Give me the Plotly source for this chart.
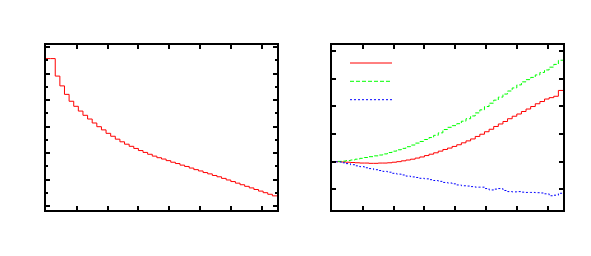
import plotly.graph_objects as go

# ---- data ----
n_bins = 50
bin_width = 0.15
bin_edges = [round(i * bin_width, 4) for i in range(n_bins + 1)]

left_values = [5.57, 5.57, 4.91, 4.54, 4.22, 3.96, 3.77, 3.59, 3.43, 3.29,
               3.14, 3.00, 2.88, 2.75, 2.64, 2.53, 2.43, 2.34, 2.26, 2.18,
               2.10, 2.03, 1.96, 1.89, 1.83, 1.78, 1.72, 1.66, 1.61, 1.55,
               1.50, 1.44, 1.38, 1.33, 1.27, 1.22, 1.16, 1.11, 1.05, 0.99,
               0.93, 0.87, 0.81, 0.75, 0.69, 0.63, 0.57, 0.51, 0.45, 0.39]

red_values = [0.00, 0.00, -0.01, -0.02, -0.03, -0.04, -0.05, -0.05, -0.06, -0.06,
              -0.05, -0.05, -0.04, -0.02, 0.00, 0.03, 0.06, 0.09, 0.13, 0.17,
              0.22, 0.27, 0.32, 0.38, 0.44, 0.49, 0.55, 0.61, 0.68, 0.75,
              0.82, 0.91, 0.99, 1.08, 1.17, 1.27, 1.36, 1.45, 1.55, 1.64,
              1.72, 1.81, 1.90, 1.99, 2.09, 2.17, 2.26, 2.31, 2.36, 2.57]

green_values = [0.00, 0.01, 0.02, 0.04, 0.06, 0.09, 0.12, 0.15, 0.18, 0.21,
                0.24, 0.28, 0.33, 0.38, 0.43, 0.48, 0.54, 0.60, 0.67, 0.73,
                0.80, 0.87, 0.95, 1.04, 1.16, 1.24, 1.30, 1.37, 1.46, 1.55,
                1.65, 1.76, 1.87, 1.99, 2.11, 2.22, 2.33, 2.44, 2.55, 2.66,
                2.77, 2.88, 2.96, 3.04, 3.13, 3.22, 3.31, 3.41, 3.51, 3.66]

blue_values = [0.00, -0.01, -0.04, -0.07, -0.11, -0.15, -0.18, -0.22, -0.25, -0.29,
               -0.32, -0.35, -0.38, -0.42, -0.45, -0.48, -0.52, -0.55, -0.57, -0.60,
               -0.62, -0.65, -0.68, -0.71, -0.75, -0.77, -0.80, -0.84, -0.87, -0.88,
               -0.90, -0.92, -0.92, -0.97, -1.02, -0.99, -0.97, -1.04, -1.08, -1.09,
               -1.08, -1.10, -1.11, -1.11, -1.12, -1.13, -1.16, -1.23, -1.21, -1.14]

left_x_range = [0, 7.5]
left_y_range = [-0.143, 6.083]
right_y_range = [-1.744, 4.21]

RED = "rgb(255,0,0)"
GREEN = "rgb(0,255,0)"
BLUE = "rgb(0,0,255)"


def steps(vals):
    return bin_edges, list(vals) + [vals[-1]]


fig = go.Figure()

x, y = steps(left_values)
fig.add_trace(go.Scatter(x=x, y=y, mode="lines", line=dict(color=RED, width=1, shape="hv"),
                         xaxis="x", yaxis="y", showlegend=False, name="left"))

for vals, col, dash, nm in [(red_values, RED, "solid", "red"),
                            (green_values, GREEN, "4px,2px", "green"),
                            (blue_values, BLUE, "2px,2px", "blue")]:
    x, y = steps(vals)
    fig.add_trace(go.Scatter(x=x, y=y, mode="lines",
                             line=dict(color=col, width=1, shape="hv", dash=dash),
                             xaxis="x2", yaxis="y2", showlegend=False, name=nm))

# page body has an 8px margin; figure sized to fit the window
OFF = 8
W, H = 575, 240


def px_x(p):
    return (p - OFF) / W


def px_y(p):
    return 1 - (p - OFF) / H


ydom = [px_y(210), px_y(45)]

axis_common = dict(showline=True, linecolor="black", linewidth=1.5, mirror="ticks",
                   ticks="inside", ticklen=4, tickwidth=1.5, tickcolor="black",
                   showticklabels=False, showgrid=False, zeroline=False)

fig.update_layout(
    width=W, height=H,
    margin=dict(l=0, r=0, t=0, b=0),
    paper_bgcolor="white", plot_bgcolor="white",
    xaxis=dict(domain=[px_x(46), px_x(277)], range=left_x_range, dtick=1, tick0=0,
               anchor="y", **axis_common),
    yaxis=dict(domain=ydom, range=left_y_range, dtick=1, tick0=0, anchor="x",
               minor=dict(dtick=0.5, tick0=0, ticks="inside", ticklen=2,
                          tickwidth=1.5, tickcolor="black", showgrid=False),
               **axis_common),
    xaxis2=dict(domain=[px_x(332), px_x(563)], range=left_x_range, dtick=1, tick0=0,
                anchor="y2", **axis_common),
    yaxis2=dict(domain=ydom, range=right_y_range, dtick=1, tick0=0, anchor="x2",
                **axis_common),
)

# legend key samples (no text in the reference)
legend_keys = [(RED, "solid", 63), (GREEN, "4px,2px", 81.3), (BLUE, "2px,2px", 99.7)]
for col, dash, py in legend_keys:
    fig.add_shape(type="line", xref="paper", yref="paper",
                  x0=px_x(350), x1=px_x(392), y0=px_y(py), y1=px_y(py),
                  line=dict(color=col, width=1, dash=dash))

fig.write_html("out.html")
